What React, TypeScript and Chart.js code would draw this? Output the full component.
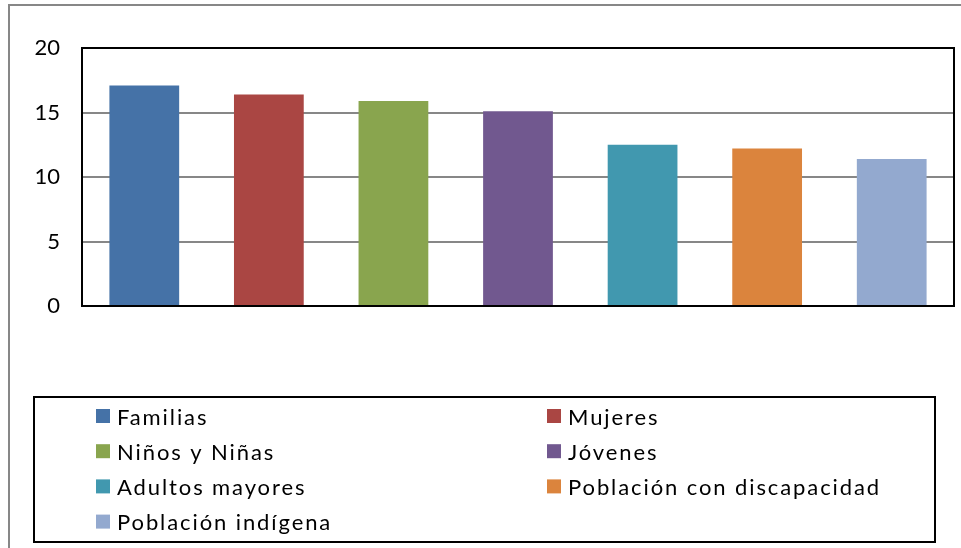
import { useEffect, useRef } from "react";
import { Chart, registerables } from "chart.js";

Chart.register(...registerables);

const categories = [
  "Familias",
  "Mujeres",
  "Niños y Niñas",
  "Jóvenes",
  "Adultos mayores",
  "Población con discapacidad",
  "Población indígena",
];
const values = [17.1, 16.4, 15.9, 15.1, 12.5, 12.2, 11.4];
const colors = ["#4572A7", "#AA4643", "#89A54E", "#71588F", "#4198AF", "#DB843D", "#93A9CF"];
const yTicks = [0, 5, 10, 15, 20];

const FONT = "Lato, 'Noto Sans', sans-serif";

const framePlugin = {
  id: "plotFrame",
  afterDatasetsDraw(chart: any) {
    const { ctx, chartArea } = chart;
    ctx.save();
    ctx.strokeStyle = "#000000";
    ctx.lineWidth = 2;
    ctx.strokeRect(chartArea.left, chartArea.top, chartArea.right - chartArea.left, chartArea.bottom - chartArea.top);
    ctx.restore();
  },
};

const legendPlugin = {
  id: "boxLegend",
  afterDraw(chart: any) {
    const { ctx } = chart;
    const labels: string[] = chart.data.labels;
    const bg: string[] = chart.data.datasets[0].backgroundColor;
    ctx.save();
    ctx.strokeStyle = "#000000";
    ctx.lineWidth = 2;
    ctx.strokeRect(34, 397, 901, 145);
    ctx.font = `22px ${FONT}`;
    (ctx as any).letterSpacing = "1.9px";
    ctx.fillStyle = "#000000";
    ctx.textBaseline = "alphabetic";
    const colX = [96, 547];
    const rowY0 = 416;
    const rowStep = 35.2;
    labels.forEach((lab, i) => {
      const col = i % 2;
      const row = Math.floor(i / 2);
      const x = colX[col];
      const y = rowY0 + row * rowStep;
      ctx.fillStyle = bg[i];
      ctx.fillRect(x, y - 7, 14, 14);
      ctx.fillStyle = "#000000";
      ctx.fillText(lab, x + 21, y + 8.5);
    });
    ctx.restore();
  },
};

export default function App() {
  const ref = useRef<HTMLCanvasElement | null>(null);

  useEffect(() => {
    if (!ref.current) return;
    const chart = new Chart(ref.current, {
      type: "bar",
      data: {
        labels: categories,
        datasets: [
          {
            data: values,
            backgroundColor: colors,
            borderWidth: 0,
            barPercentage: 0.56,
            categoryPercentage: 1,
          },
        ],
      },
      options: {
        animation: false,
        responsive: false,
        maintainAspectRatio: false,
        layout: { padding: { left: 0, top: 48, right: 7, bottom: 242 } },
        plugins: {
          legend: { display: false },
          tooltip: { enabled: false },
        },
        scales: {
          x: {
            display: true,
            grid: { display: false, drawTicks: false },
            border: { display: false },
            ticks: { display: false },
            afterFit(scale: any) {
              scale.height = 0;
            },
          },
          y: {
            min: 0,
            max: 20,
            afterBuildTicks(scale: any) {
              scale.ticks = yTicks.map((v) => ({ value: v }));
            },
            grid: { color: "#878787", lineWidth: 2, drawTicks: false },
            border: { display: false },
            ticks: {
              padding: 22,
              color: "#000000",
              font: { family: FONT, size: 22 },
            },
            afterFit(scale: any) {
              scale.width = 82;
            },
          },
        },
      },
      plugins: [framePlugin, legendPlugin],
    });
    return () => chart.destroy();
  }, []);

  return (
    <div style={{ position: "fixed", left: 0, top: 0, width: 961, height: 548, overflow: "hidden", background: "#fff" }}>
      <div
        style={{
          position: "absolute",
          left: 8,
          top: 4,
          width: 980,
          height: 600,
          border: "2px solid #878787",
          boxSizing: "border-box",
        }}
      />
      <canvas ref={ref} width={961} height={548} style={{ position: "absolute", left: 0, top: 0, width: 961, height: 548 }} />
    </div>
  );
}
